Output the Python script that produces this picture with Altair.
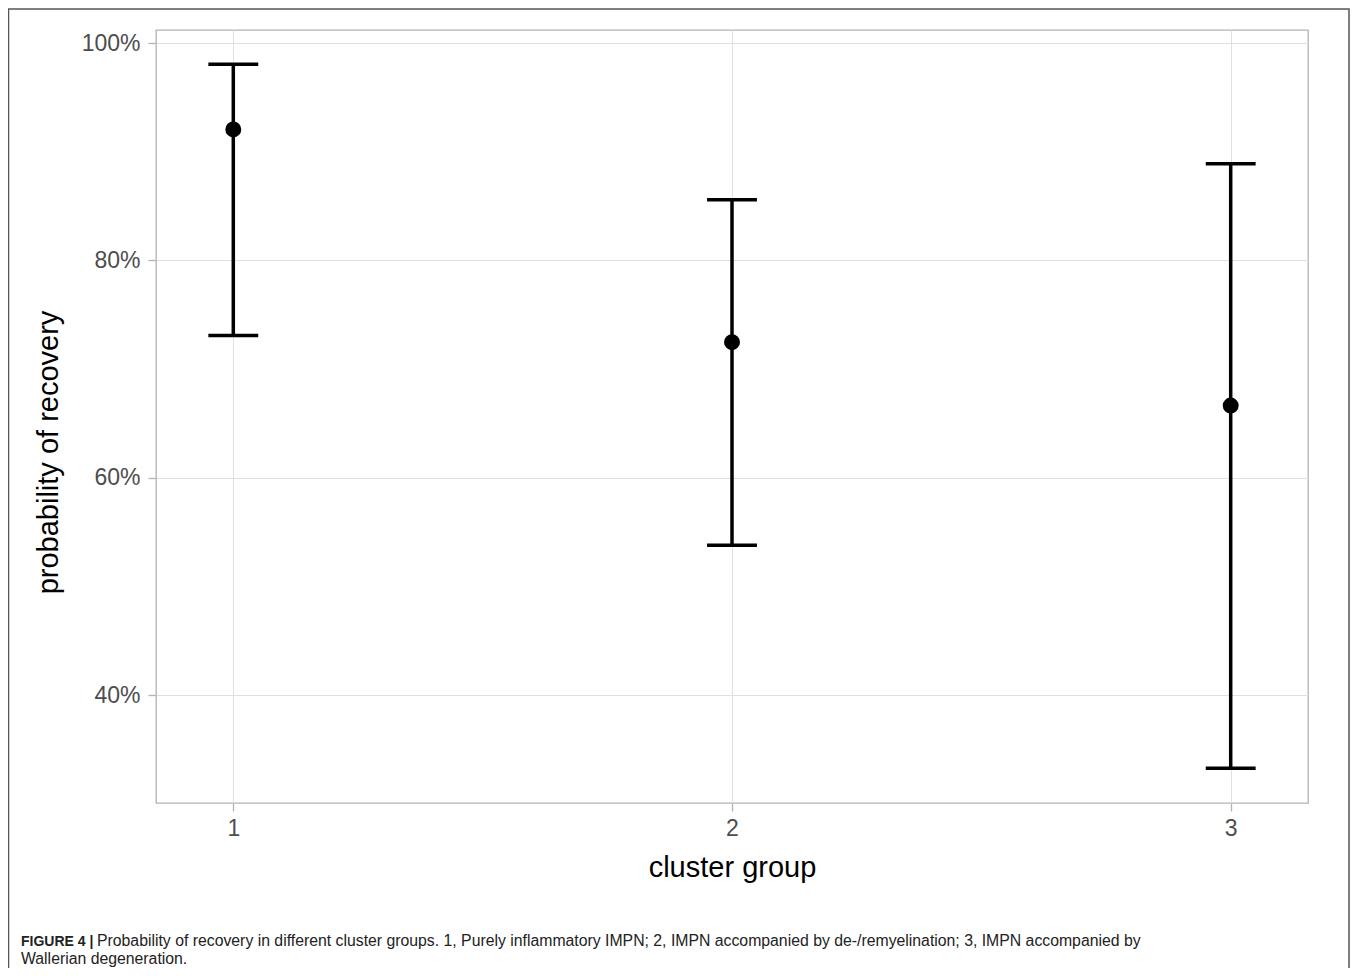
import altair as alt
import pandas as pd

clusters = [1, 2, 3]
estimate = [92.05, 72.49, 66.66]
lower = [73.09, 53.81, 33.30]
upper = [98.04, 85.58, 88.89]
y_ticks = [40, 60, 80, 100]

caption_bold = "FIGURE 4 |"
caption_line1 = ("Probability of recovery in different cluster groups. 1, Purely inflammatory IMPN; "
                 "2, IMPN accompanied by de-/remyelination; 3, IMPN accompanied by")
caption_line2 = "Wallerian degeneration."

df = pd.DataFrame({"cluster": clusters, "est": estimate, "lo": lower, "hi": upper})

x_scale = alt.Scale(domain=[0.845, 3.155], nice=False, zero=False)
y_scale = alt.Scale(domain=[30.1, 101.2], nice=False, zero=False)

x_axis = alt.Axis(values=clusters, format="d", title="cluster group",
                  titleX=576, titleY=64, titleBaseline="middle", titleAlign="center")
y_axis = alt.Axis(values=y_ticks, title="probability of recovery",
                  labelExpr="datum.value + '%'",
                  titleX=-108, titleY=422, titleBaseline="middle", titleAlign="center")

base = alt.Chart(df).transform_calculate(
    xl="datum.cluster - 0.05", xr="datum.cluster + 0.05"
)

vert = base.mark_rule(color="black", strokeWidth=3.5).encode(
    x=alt.X("cluster:Q", scale=x_scale, axis=x_axis),
    y=alt.Y("lo:Q", scale=y_scale, axis=y_axis),
    y2="hi:Q",
)
cap_hi = base.mark_rule(color="black", strokeWidth=3.5).encode(
    x=alt.X("xl:Q", scale=x_scale), x2="xr:Q", y=alt.Y("hi:Q", scale=y_scale)
)
cap_lo = base.mark_rule(color="black", strokeWidth=3.5).encode(
    x=alt.X("xl:Q", scale=x_scale), x2="xr:Q", y=alt.Y("lo:Q", scale=y_scale)
)
pts = base.mark_circle(color="black", opacity=1, size=254).encode(
    x=alt.X("cluster:Q", scale=x_scale), y=alt.Y("est:Q", scale=y_scale)
)

cap_df = pd.DataFrame({"t": [caption_bold]})
cap1_df = pd.DataFrame({"t": [caption_line1]})
cap2_df = pd.DataFrame({"t": [caption_line2]})

cap_font = "Liberation Sans"
t_bold = alt.Chart(cap_df).mark_text(align="left", baseline="alphabetic", fontSize=14,
                                     fontWeight="bold", font=cap_font, color="#222").encode(
    x=alt.value(-135), y=alt.value(916), text="t:N")
t_1 = alt.Chart(cap1_df).mark_text(align="left", baseline="alphabetic", fontSize=15.8,
                                   font=cap_font, color="#222").encode(
    x=alt.value(-59), y=alt.value(916), text="t:N")
t_2 = alt.Chart(cap2_df).mark_text(align="left", baseline="alphabetic", fontSize=15.8,
                                   font=cap_font, color="#222").encode(
    x=alt.value(-135), y=alt.value(934), text="t:N")

frame = alt.Chart(pd.DataFrame({"f": [0]})).mark_rect(
    fillOpacity=0, stroke="#555555", strokeWidth=1.5).encode(
    x=alt.value(-147.5), x2=alt.value(1193), y=alt.value(-21), y2=alt.value(1000))

chart = alt.layer(vert, cap_hi, cap_lo, pts, t_bold, t_1, t_2, frame).properties(
    width=1152, height=773,
    autosize=alt.AutoSizeParams(type="none"),
    padding={"left": 148, "top": 22, "right": 42, "bottom": 165},
).configure(font="Liberation Sans").configure_view(
    stroke="#b3b3b3", strokeWidth=1.3
).configure_axis(
    domain=False, grid=True, gridColor="#e0e0e0", gridWidth=1,
    tickColor="#b3b3b3", tickSize=8, tickWidth=1.3,
    labelFont="Liberation Sans", labelFontSize=23, labelColor="#4d4d4d",
    titleFont="Liberation Sans", titleFontSize=29, titleFontWeight="normal", titleColor="black",
).configure_axisY(labelPadding=8).configure_axisX(labelPadding=6)

chart.save("out.html", embed_options={"renderer": "svg", "actions": False})
